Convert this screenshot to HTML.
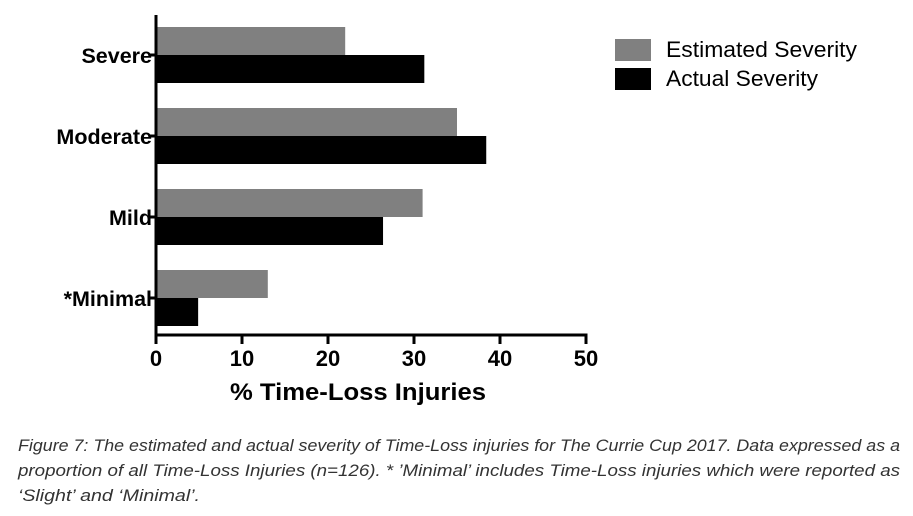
<!DOCTYPE html>
<html><head><meta charset="utf-8"><style>
html,body{margin:0;padding:0;background:#fff;width:913px;height:516px;overflow:hidden}
svg{display:block;font-family:"Liberation Sans",sans-serif}
</style></head><body>
<svg id="chart" width="913" height="516">
<g id="plot"></g>
<text x="358" y="400" font-size="24" font-weight="bold" text-anchor="middle" textLength="256" lengthAdjust="spacingAndGlyphs">% Time-Loss Injuries</text>
<g>
<rect x="615" y="39" width="36" height="22" fill="#808080"/>
<text x="666" y="57" font-size="22" textLength="191" lengthAdjust="spacingAndGlyphs">Estimated Severity</text>
<rect x="615" y="68" width="36" height="22" fill="#000"/>
<text x="666" y="86" font-size="22" textLength="152" lengthAdjust="spacingAndGlyphs">Actual Severity</text>
</g>
<g font-style="italic" font-size="17" fill="#333">
<text x="18" y="451" textLength="882" lengthAdjust="spacingAndGlyphs">Figure 7: The estimated and actual severity of Time-Loss injuries for The Currie Cup 2017. Data expressed as a</text>
<text x="18" y="476" textLength="882" lengthAdjust="spacingAndGlyphs">proportion of all Time-Loss Injuries (n=126). * ’Minimal’ includes Time-Loss injuries which were reported as</text>
<text x="18" y="501" textLength="182" lengthAdjust="spacingAndGlyphs">‘Slight’ and ‘Minimal’.</text>
</g>
</svg>
<script>
const categories=["Severe","Moderate","Mild","*Minimal"];
const estimated=[22,35,31,13];
const actual=[31.2,38.4,26.4,4.9];
const ticks=[0,10,20,30,40,50];
const NS="http://www.w3.org/2000/svg";
const g=document.getElementById("plot");
const x0=156,x1=586,xmax=50;
const xs=v=>x0+(x1-x0)*v/xmax;
const groupTop=i=>27+i*81;
function mk(t,a){const e=document.createElementNS(NS,t);for(const k in a)e.setAttribute(k,a[k]);g.appendChild(e);return e;}
categories.forEach((c,i)=>{
  const y=groupTop(i);
  const b1=mk("rect",{x:x0,y:y,width:xs(estimated[i])-x0,height:28,fill:"#808080"});
  
  
  const b2=mk("rect",{x:x0,y:y+28,width:xs(actual[i])-x0,height:28,fill:"#000"});
  
  
  const tk=mk("line",{x1:x0-6,x2:x0,y1:y+28,y2:y+28,stroke:"#000","stroke-width":3});
  
  
  const l=mk("text",{x:x0-4,y:y+36,"font-size":21.5,"font-weight":"bold","text-anchor":"end"});
  l.textContent=c;
  
  
});
const ya=mk("line",{x1:x0,x2:x0,y1:15,y2:336,stroke:"#000","stroke-width":3});


const xa=mk("line",{x1:x0-1.5,x2:x1+1.5,y1:335,y2:335,stroke:"#000","stroke-width":3});


ticks.forEach(t=>{
  const l=mk("line",{x1:xs(t),x2:xs(t),y1:335,y2:344,stroke:"#000","stroke-width":3});
  
  
  const tx=mk("text",{x:xs(t),y:366,"font-size":22,"font-weight":"bold","text-anchor":"middle"});
  tx.textContent=t;
  
  
});
</script>
</body></html>
